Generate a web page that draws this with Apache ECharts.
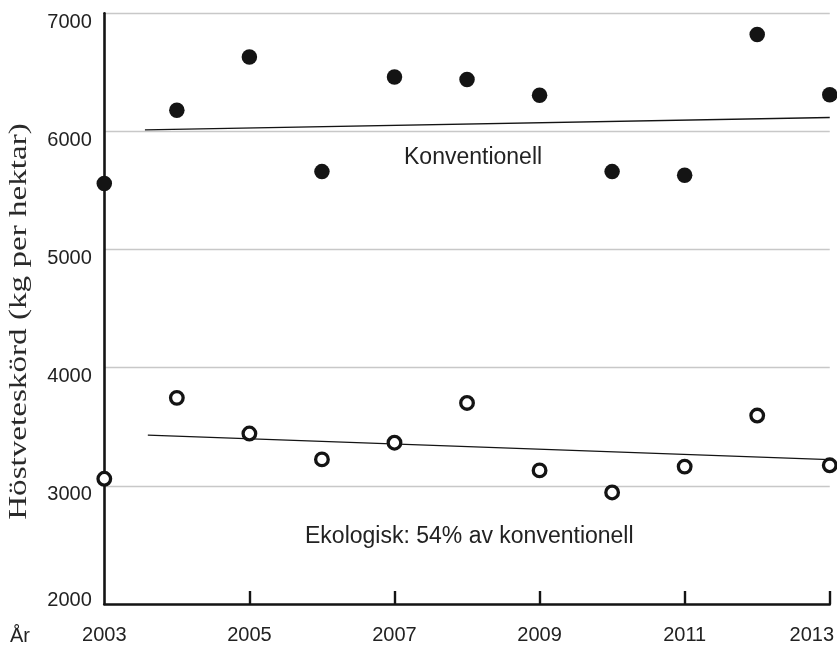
<!DOCTYPE html>
<html>
<head>
<meta charset="utf-8">
<script src="https://cdn.jsdelivr.net/npm/echarts@6/dist/echarts.min.js"></script>
<style>
  html, body { margin: 0; padding: 0; background: #fff; }
  #chart { width: 837px; height: 645px; }
</style>
</head>
<body>
<div id="chart"></div>
<script>
// Winter wheat yield per year, conventional vs. organic farming
const years = [2003, 2004, 2005, 2006, 2007, 2008, 2009, 2010, 2011, 2012, 2013];
const konventionell = [5560, 6180, 6630, 5660, 6460, 6440, 6306, 5660, 5630, 6820, 6310];
const ekologisk = [3060, 3745, 3443, 3224, 3365, 3702, 3131, 2944, 3163, 3595, 3174];

// Straight trend lines (start year, end year) and their values
const trendYearsKonv = [2003.56, 2013];
const trendKonventionell = [6014, 6118];
const trendYearsEko = [2003.6, 2013];
const trendEkologisk = [3430, 3222];

// Axis ticks
const yTicks = [2000, 3000, 4000, 5000, 6000, 7000];
const xLabelYears = [2003, 2005, 2007, 2009, 2011, 2013];
const xTickYears = [2005, 2007, 2009, 2011, 2013];

const INK = '#141414';
const TEXT = '#222222';
const SANS = '"Liberation Sans", Arial, Helvetica, sans-serif';
const SERIF = '"Liberation Serif", "Times New Roman", serif';

const zip = (xs, ys) => xs.map((x, i) => [x, ys[i]]);

const chart = echarts.init(document.getElementById('chart'), null, { renderer: 'canvas' });

chart.setOption({
  animation: false,
  backgroundColor: '#ffffff',
  grid: { left: 104.3, right: 6.5, top: 13.3, bottom: 38.3 },
  xAxis: {
    type: 'value',
    min: years[0],
    max: years[years.length - 1],
    splitLine: { show: false },
    axisLine: { show: true, onZero: false, lineStyle: { color: INK, width: 2.6 } },
    axisTick: {
      show: true, inside: true, length: 13,
      customValues: xTickYears,
      lineStyle: { color: INK, width: 2.4 }
    },
    axisLabel: {
      customValues: xLabelYears,
      margin: 21,
      fontSize: 20,
      fontFamily: SANS,
      color: TEXT,
      formatter: v => (v === xLabelYears[xLabelYears.length - 1] ? '{r|' + v + '}' : String(v)),
      rich: { r: { padding: [0, 36, 0, 0] } }
    }
  },
  yAxis: {
    type: 'value',
    min: yTicks[0],
    max: yTicks[yTicks.length - 1],
    interval: 1000,
    axisLine: { show: true, lineStyle: { color: INK, width: 2.6 } },
    axisTick: { show: false },
    splitLine: { show: true, lineStyle: { color: '#c8c8c8', width: 1.3 } },
    axisLabel: {
      margin: 12.5,
      fontSize: 20,
      fontFamily: SANS,
      color: TEXT,
      formatter: v => (v === yTicks[0] ? '{lo|' + v + '}' : '{hi|' + v + '}'),
      rich: {
        hi: { padding: [18, 0, 0, 0] },
        lo: { padding: [0, 0, 7, 0] }
      }
    }
  },
  graphic: [
    {
      type: 'text', x: 19.3, y: 321.5, rotation: Math.PI / 2, scaleX: 1.3,
      style: {
        text: 'Höstveteskörd (kg per hektar)',
        font: '25.5px ' + SERIF, fill: '#2a2a2a',
        textAlign: 'center', textVerticalAlign: 'middle'
      }
    },
    {
      type: 'text', x: 10, y: 636,
      style: { text: 'År', font: '20px ' + SANS, fill: TEXT, textAlign: 'left', textVerticalAlign: 'middle' }
    },
    {
      type: 'text', x: 404, y: 158,
      style: { text: 'Konventionell', font: '23px ' + SANS, fill: TEXT, textAlign: 'left', textVerticalAlign: 'middle' }
    },
    {
      type: 'text', x: 305, y: 537,
      style: { text: 'Ekologisk: 54% av konventionell', font: '23px ' + SANS, fill: TEXT, textAlign: 'left', textVerticalAlign: 'middle' }
    }
  ],
  series: [
    {
      name: 'Trend konventionell', type: 'line', z: 2, silent: true,
      showSymbol: false, data: zip(trendYearsKonv, trendKonventionell),
      lineStyle: { color: INK, width: 1.3 }
    },
    {
      name: 'Trend ekologisk', type: 'line', z: 2, silent: true,
      showSymbol: false, data: zip(trendYearsEko, trendEkologisk),
      lineStyle: { color: INK, width: 1.3 }
    },
    {
      name: 'Konventionell', type: 'scatter', z: 3,
      symbol: 'circle', symbolSize: 15.5,
      itemStyle: { color: INK, opacity: 1 },
      data: zip(years, konventionell)
    },
    {
      name: 'Ekologisk', type: 'scatter', z: 3,
      symbol: 'circle', symbolSize: 12.6,
      itemStyle: { color: '#ffffff', borderColor: INK, borderWidth: 3.3, opacity: 1 },
      data: zip(years, ekologisk)
    }
  ]
});
</script>
</body>
</html>
